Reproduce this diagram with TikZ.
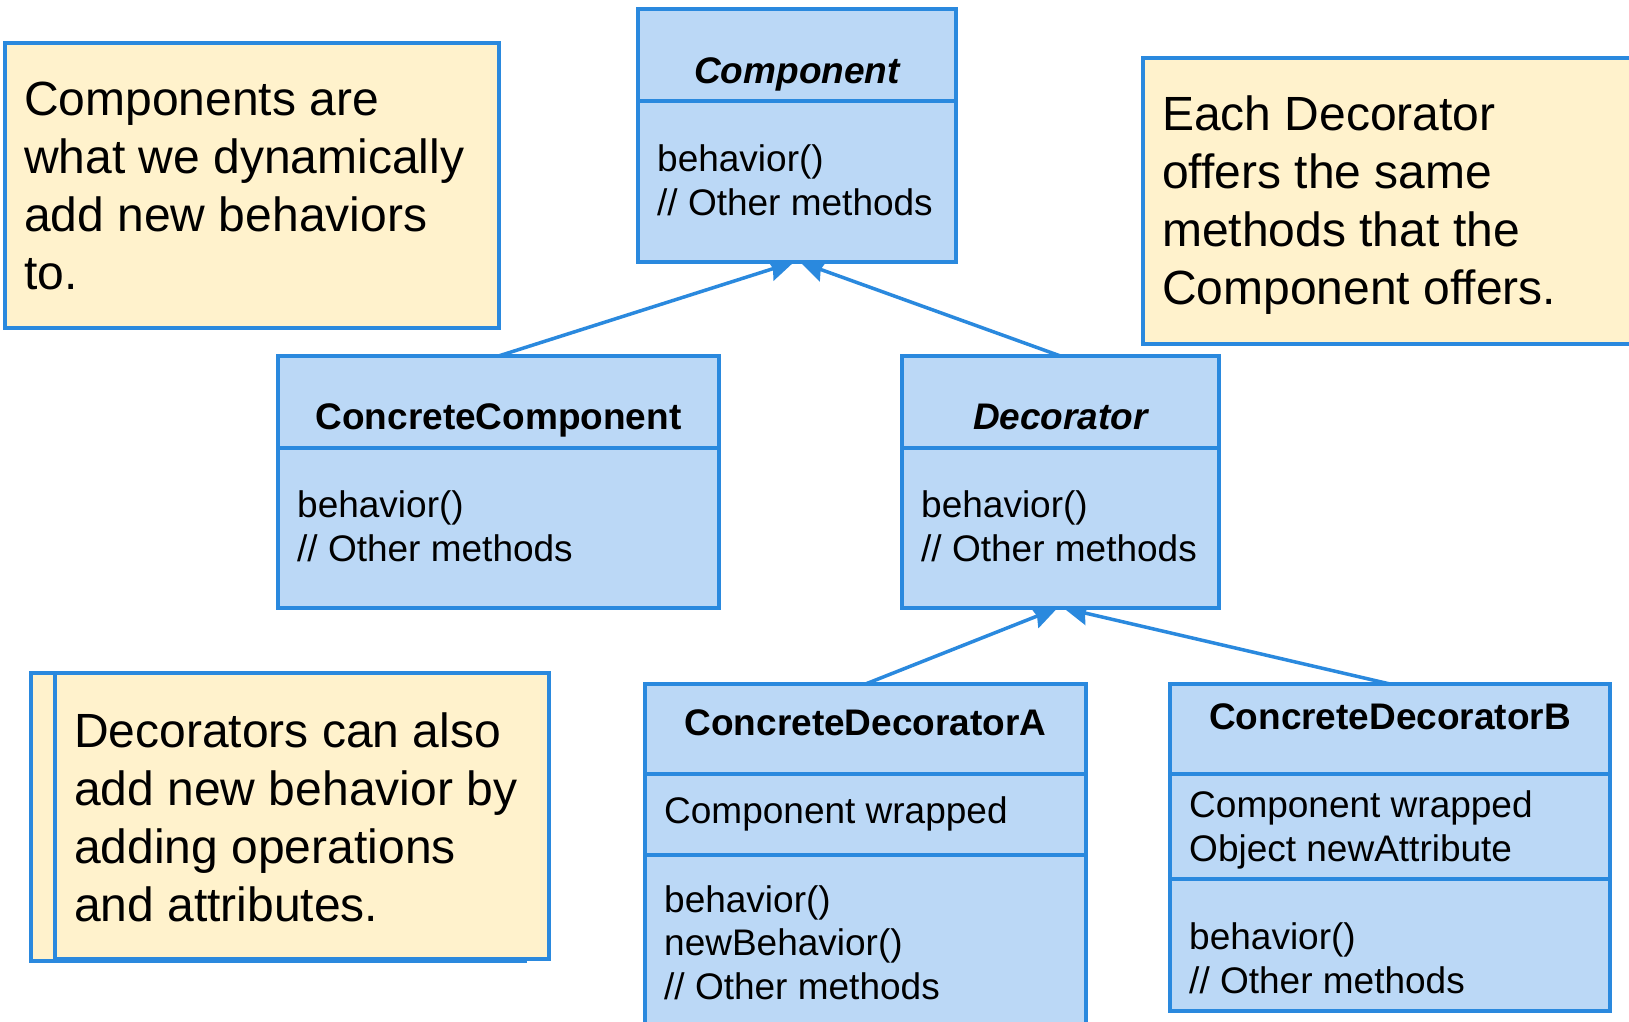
\documentclass[tikz,border=0pt]{standalone}
\usepackage{fontspec}
\setmainfont{Liberation Sans}
\usetikzlibrary{arrows.meta,backgrounds}
\definecolor{umlblue}{RGB}{42,137,222}
\definecolor{umlfill}{RGB}{187,216,246}
\definecolor{notefill}{RGB}{255,242,204}
\tikzset{
  classbox/.style={draw=umlblue, line width=3.5pt, fill=umlfill, inner sep=0pt, outer sep=0pt, anchor=north west},
  notebox/.style={draw=umlblue, line width=3.5pt, fill=notefill, inner sep=0pt, outer sep=0pt, anchor=north west},
  divider/.style={draw=umlblue, line width=3.5pt},
  txt/.style={anchor=base west, inner sep=0pt, font=\fontsize{37}{44}\selectfont},
  ttl/.style={anchor=base, inner sep=0pt, font=\fontsize{37}{44}\selectfont\bfseries},
  ttli/.style={anchor=base, inner sep=0pt, font=\fontsize{37}{44}\selectfont\bfseries\itshape},
  notetxt/.style={anchor=base west, inner sep=0pt, font=\fontsize{48}{58}\selectfont},
  inherit/.style={draw=umlblue, line width=3.5pt, -{Stealth[length=25pt,width=23pt,inset=3pt]}},
}
\begin{document}
\begin{tikzpicture}[x=1pt,y=-1pt]
\useasboundingbox (0,0) rectangle (1629,1021);
\clip (0,0) rectangle (1629,1021);

% ---------- notes ----------
\node[notebox, minimum width=494pt, minimum height=285pt] (note1) at (5,43) {};
\node[notetxt] (n1a) at (24,115) {Components are};
\node[notetxt] (n1b) at (24,173) {what we dynamically};
\node[notetxt] (n1c) at (24,231) {add new behaviors};
\node[notetxt] (n1d) at (24,289) {to.};

\node[notebox, minimum width=600pt, minimum height=286pt] (note2) at (1143,58) {};
\node[notetxt] (n2a) at (1162,130) {Each Decorator};
\node[notetxt] (n2b) at (1162,188) {offers the same};
\node[notetxt] (n2c) at (1162,246) {methods that the};
\node[notetxt] (n2d) at (1162,304) {Component offers.};

\node[notebox, minimum width=494pt, minimum height=288pt] (note3back) at (31,673) {};
\node[notebox, minimum width=494pt, minimum height=286pt] (note3) at (55,673) {};
\node[notetxt] (n3a) at (74,747) {Decorators can also};
\node[notetxt] (n3b) at (74,805) {add new behavior by};
\node[notetxt] (n3c) at (74,863) {adding operations};
\node[notetxt] (n3d) at (74,921) {and attributes.};

% ---------- Component ----------
\node[classbox, minimum width=318pt, minimum height=253pt] (comp) at (638,9) {};
\draw[divider] (638,101) -- (956,101);
\node[ttli] (compt) at (797,83) {Component};
\node[txt] (comp1) at (657,171) {behavior()};
\node[txt] (comp2) at (657,215) {// Other methods};

% ---------- ConcreteComponent ----------
\node[classbox, minimum width=441pt, minimum height=252pt] (cc) at (278,356) {};
\draw[divider] (278,448) -- (719,448);
\node[ttl] (cct) at (498.5,429) {ConcreteComponent};
\node[txt] (cc1) at (297,517) {behavior()};
\node[txt] (cc2) at (297,561) {// Other methods};

% ---------- Decorator ----------
\node[classbox, minimum width=317pt, minimum height=252pt] (dec) at (902,356) {};
\draw[divider] (902,448) -- (1219,448);
\node[ttli] (dect) at (1060.5,429) {Decorator};
\node[txt] (dec1) at (921,517) {behavior()};
\node[txt] (dec2) at (921,561) {// Other methods};

% ---------- ConcreteDecoratorA ----------
\node[classbox, minimum width=441pt, minimum height=400pt] (cda) at (645,684) {};
\draw[divider] (645,774) -- (1086,774);
\draw[divider] (645,855) -- (1086,855);
\node[ttl] (cdat) at (865.5,735) {ConcreteDecoratorA};
\node[txt] (cda1) at (664,823) {Component wrapped};
\node[txt] (cda2) at (664,912) {behavior()};
\node[txt] (cda3) at (664,955) {newBehavior()};
\node[txt] (cda4) at (664,999) {// Other methods};

% ---------- ConcreteDecoratorB ----------
\node[classbox, minimum width=440pt, minimum height=327pt] (cdb) at (1170,684) {};
\draw[divider] (1170,774) -- (1610,774);
\draw[divider] (1170,879) -- (1610,879);
\node[ttl] (cdbt) at (1390,729) {ConcreteDecoratorB};
\node[txt] (cdb1) at (1189,817) {Component wrapped};
\node[txt] (cdb2) at (1189,861) {Object newAttribute};
\node[txt] (cdb3) at (1189,949) {behavior()};
\node[txt] (cdb4) at (1189,993) {// Other methods};

% ---------- inheritance connectors (behind the boxes) ----------
\begin{pgfonlayer}{background}
\fill[white] (0,0) rectangle (1629,1021);
\draw[inherit] (cc.north) -- ([xshift=-3pt]comp.south);
\draw[inherit] (dec.north) -- ([xshift=3pt]comp.south);
\draw[inherit] (cda.north) -- ([xshift=-3pt]dec.south);
\draw[inherit] (cdb.north) -- ([xshift=3pt]dec.south);
\end{pgfonlayer}
\end{tikzpicture}
\end{document}
